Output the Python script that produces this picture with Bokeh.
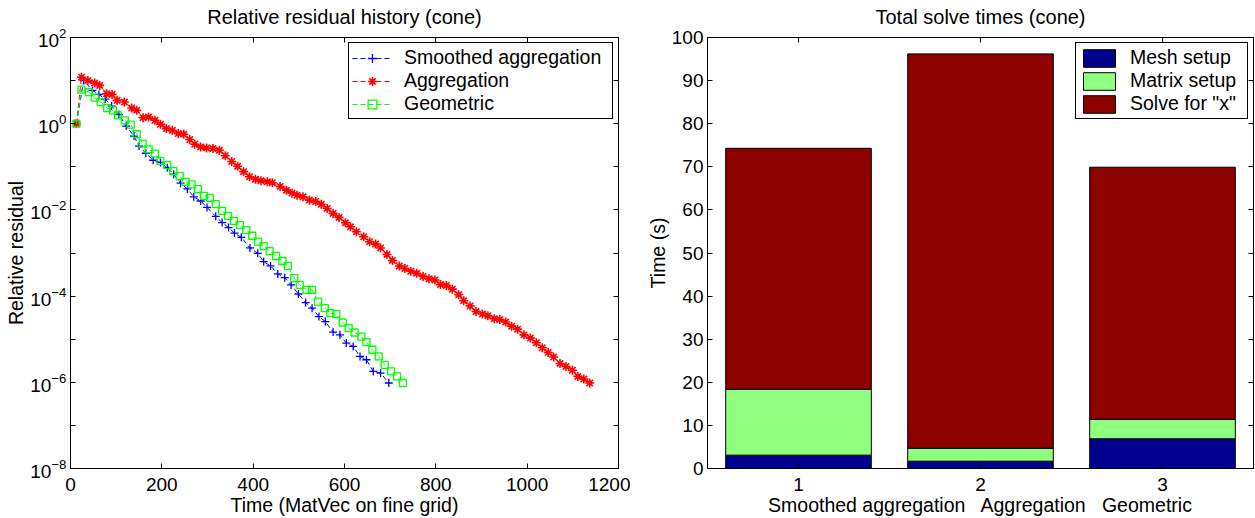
from bokeh.plotting import figure
from bokeh.layouts import row
from bokeh.models import (FixedTicker, LinearAxis, LogAxis, Legend, LegendItem,
                          ColumnDataSource, CustomJSTickFormatter)
from bokeh.embed import file_html
from bokeh.resources import INLINE

# ---------------- data ----------------
sa_x = [13, 29, 48, 62, 76, 90, 106, 122, 139, 150, 165, 181, 197, 212, 226, 241, 256, 270, 285, 299,
        318, 332, 346, 359, 374, 393, 410, 423, 438, 454, 469, 483, 499, 515, 529, 544, 558, 575, 590, 604,
        619, 634, 648, 663, 679, 697]
sa_y = [1.0, 10.1, 5.93, 4.79, 3.73, 2.56, 1.63, 0.880, 0.516, 0.303, 0.206, 0.142, 0.126, 0.0953, 0.0675,
        0.0417, 0.0306, 0.0201, 0.0161, 0.0114, 0.00708, 0.00508, 0.00389, 0.00290, 0.00231, 0.00131,
        9.84e-4, 6.29e-4, 5.00e-4, 3.27e-4, 2.68e-4, 1.82e-4, 1.12e-4, 7.08e-5, 5.25e-5, 3.35e-5, 2.57e-5,
        1.46e-5, 1.26e-5, 8.12e-6, 6.78e-6, 3.98e-6, 3.34e-6, 1.79e-6, 1.64e-6, 9.63e-7]

agg_x = [13, 24, 38, 53, 64, 79, 91, 102, 118, 134, 145, 159, 171, 185, 197, 210, 223, 236, 248, 261,
         272, 285, 298, 312, 326, 339, 353, 366, 379, 392, 405, 417, 431, 442, 459, 473, 485, 496, 509, 523,
         537, 549, 562, 575, 588, 602, 613, 626, 642, 655, 668, 679, 693, 705, 720, 732, 745, 758, 772, 785,
         798, 810, 823, 836, 850, 861, 875, 888, 902, 914, 928, 940, 953, 966, 979, 993, 1007, 1020, 1033,
         1046, 1058, 1072, 1085, 1099, 1111, 1124, 1137]
agg_y = [1.0, 12.0, 10.1, 8.75, 7.74, 4.97, 4.79, 3.48, 3.18, 2.31, 2.04, 1.38, 1.43, 1.20, 0.969, 0.770,
         0.704, 0.590, 0.569, 0.429, 0.334, 0.289, 0.274, 0.265, 0.242, 0.181, 0.133, 0.103, 0.0771, 0.0590,
         0.0516, 0.0477, 0.0447, 0.0428, 0.0350, 0.0287, 0.0245, 0.0220, 0.0201, 0.0169, 0.0157, 0.0135,
         0.0108, 0.00830, 0.00670, 0.00502, 0.00406, 0.00311, 0.00238, 0.00183, 0.00161, 0.00131, 9.23e-4,
         6.70e-4, 5.00e-4, 4.38e-4, 3.77e-4, 3.39e-4, 2.86e-4, 2.53e-4, 2.37e-4, 1.85e-4, 1.77e-4, 1.45e-4,
         1.08e-4, 7.83e-5, 5.93e-5, 4.38e-5, 3.83e-5, 3.52e-5, 3.00e-5, 2.86e-5, 2.50e-5, 2.01e-5, 1.71e-5,
         1.26e-5, 1.06e-5, 8.26e-6, 6.32e-6, 4.90e-6, 3.85e-6, 2.74e-6, 2.33e-6, 1.91e-6, 1.37e-6, 1.19e-6,
         9.63e-7]

geo_x = [13, 24, 40, 53, 66, 80, 93, 104, 119, 132, 145, 158, 171, 185, 197, 212, 225, 239, 252, 265,
         279, 292, 305, 318, 332, 345, 358, 371, 385, 398, 411, 423, 436, 450, 464, 476, 490, 502, 517, 529,
         542, 557, 569, 582, 596, 609, 622, 637, 648, 661, 675, 688, 702, 715, 728]
geo_y = [1.0, 6.15, 5.42, 4.02, 3.18, 2.31, 2.04, 1.56, 1.20, 0.953, 0.569, 0.346, 0.255, 0.203, 0.137,
         0.109, 0.0791, 0.0606, 0.0447, 0.0389, 0.0303, 0.0212, 0.0191, 0.0136, 0.00952, 0.00730, 0.00559,
         0.00445, 0.00341, 0.00251, 0.00183, 0.00145, 0.00111, 8.53e-4, 6.53e-4, 5.00e-4, 2.60e-4, 1.82e-4,
         1.39e-4, 1.39e-4, 7.46e-5, 5.25e-5, 4.02e-5, 3.81e-5, 2.44e-5, 1.81e-5, 1.43e-5, 1.15e-5, 8.57e-6,
         5.69e-6, 3.98e-6, 2.55e-6, 1.79e-6, 1.37e-6, 9.63e-7]

series_names = ["Smoothed aggregation", "Aggregation", "Geometric"]

bar_pos = [1, 2, 3]
mesh_setup = [3.1, 1.7, 6.9]
matrix_setup = [15.3, 3.0, 4.5]
solve_x = [55.9, 91.5, 58.5]
stack_names = ["Mesh setup", "Matrix setup", 'Solve for "x"']

res_xticks = [0, 200, 400, 600, 800, 1000, 1200]
res_yticks = [1e-8, 1e-6, 1e-4, 1e-2, 1e0, 1e2]
res_yminor = [1e-7, 1e-5, 1e-3, 1e-1, 1e1]
time_yticks = [0, 10, 20, 30, 40, 50, 60, 70, 80, 90, 100]

titles = ["Relative residual history (cone)", "Total solve times (cone)"]

FONT = "Liberation Sans"
FS = "19px"
FL = "19.5px"


def style(p):
    p.outline_line_color = "black"
    p.outline_line_width = 1
    p.outline_line_alpha = 1
    p.grid.visible = False
    p.background_fill_color = "white"
    p.border_fill_color = "white"
    for ax in p.axis:
        ax.major_tick_in = 5
        ax.major_tick_out = 0
        ax.minor_tick_in = 5
        ax.minor_tick_out = 0
        ax.major_tick_line_color = "black"
        ax.minor_tick_line_color = "black"
        ax.axis_line_color = "black"
        ax.major_label_text_font = FONT
        ax.major_label_text_font_size = FS
        ax.major_label_text_color = "black"
        ax.axis_label_text_font = FONT
        ax.axis_label_text_font_size = FL
        ax.axis_label_text_font_style = "normal"
        ax.axis_label_text_color = "black"
        ax.major_label_standoff = 9
        ax.axis_label_standoff = 0


def mirror(ax):
    ax.formatter = CustomJSTickFormatter(code="return '';")
    ax.major_label_standoff = 0
    ax.major_tick_in = 5
    ax.major_tick_out = 0
    ax.minor_tick_in = 5
    ax.minor_tick_out = 0
    ax.axis_line_color = "black"


def top_title(ax, text):
    # the chart title is carried by the (tick-label-free) top axis
    ax.axis_label = text
    ax.axis_label_text_font_size = "20px"
    ax.axis_label_standoff = 10


def legend(items, standoff, label_width):
    return Legend(items=items, location="top_right", margin=5, padding=3, spacing=0,
                  glyph_width=40, glyph_height=22, label_height=22, label_standoff=standoff,
                  label_width=label_width,
                  label_text_font=FONT, label_text_font_size=FL, label_text_color="black",
                  border_line_color="black", border_line_width=1.5, border_line_alpha=1,
                  background_fill_color="white", background_fill_alpha=1)


# ---------------- left: residual history ----------------
p1 = figure(width=630, height=518, y_axis_type="log", x_range=(0, 1200), y_range=(1e-8, 1e2),
            output_backend="svg", toolbar_location=None,
            min_border_left=70, min_border_right=12, min_border_top=37, min_border_bottom=49)
p1.xaxis.axis_label = "Time (MatVec on fine grid)"
p1.yaxis.axis_label = "Relative residual"
p1.xaxis.ticker = FixedTicker(ticks=res_xticks, minor_ticks=[])
p1.yaxis.ticker = FixedTicker(ticks=res_yticks, minor_ticks=res_yminor)
top1 = LinearAxis(ticker=FixedTicker(ticks=res_xticks, minor_ticks=[]))
right1 = LogAxis(ticker=FixedTicker(ticks=res_yticks, minor_ticks=res_yminor))
p1.add_layout(top1, "above")
p1.add_layout(right1, "right")
style(p1)
mirror(top1)
mirror(right1)
top_title(top1, titles[0])
p1.yaxis[0].major_label_standoff = 4

dash = "5 3"
l_sa = p1.line(sa_x, sa_y, line_color="#0000FF", line_width=1, line_dash=dash)
s_sa = p1.scatter(sa_x, sa_y, marker="cross", size=8, line_color="#0000FF", line_width=1.3)
l_agg = p1.line(agg_x, agg_y, line_color="#FF0000", line_width=1, line_dash=dash)
s_agg = p1.scatter(agg_x, agg_y, marker="asterisk", size=9, line_color="#FF0000", line_width=1.6)
l_geo = p1.line(geo_x, geo_y, line_color="#00FF00", line_width=1, line_dash=dash)
s_geo = p1.scatter(geo_x, geo_y, marker="square", size=7, fill_color=None, line_color="#00FF00",
                   line_width=1.3)

leg1 = legend([LegendItem(label=series_names[0], renderers=[l_sa, s_sa]),
               LegendItem(label=series_names[1], renderers=[l_agg, s_agg]),
               LegendItem(label=series_names[2], renderers=[l_geo, s_geo])], 12, 205)
p1.add_layout(leg1)

# ---------------- right: stacked bars ----------------
p2 = figure(width=625, height=518, x_range=(0.5, 3.5), y_range=(0, 100),
            output_backend="svg", toolbar_location=None,
            min_border_left=77, min_border_right=2, min_border_top=37, min_border_bottom=49)
p2.xaxis.axis_label = "Smoothed aggregation \u00a0 Aggregation \u00a0 Geometric"
p2.yaxis.axis_label = "Time (s)"
p2.xaxis.ticker = FixedTicker(ticks=bar_pos, minor_ticks=[])
p2.yaxis.ticker = FixedTicker(ticks=time_yticks, minor_ticks=[])
top2 = LinearAxis(ticker=FixedTicker(ticks=bar_pos, minor_ticks=[]))
right2 = LinearAxis(ticker=FixedTicker(ticks=time_yticks, minor_ticks=[]))
p2.add_layout(top2, "above")
p2.add_layout(right2, "right")
style(p2)
mirror(top2)
mirror(right2)
top_title(top2, titles[1])
p2.yaxis[0].major_label_standoff = 4

src = ColumnDataSource(dict(x=bar_pos, mesh=mesh_setup, matrix=matrix_setup, solve=solve_x))
bars = p2.vbar_stack(["mesh", "matrix", "solve"], x="x", width=0.8, source=src,
                     fill_color=["#00008F", "#8FFF80", "#8C0000"], line_color="black", line_width=1)
leg2 = legend([LegendItem(label=stack_names[i], renderers=[bars[i]]) for i in range(3)], 11, 114)
p2.add_layout(leg2)

layout = row(p1, p2)
open("out.html", "w").write(file_html(layout, INLINE))
